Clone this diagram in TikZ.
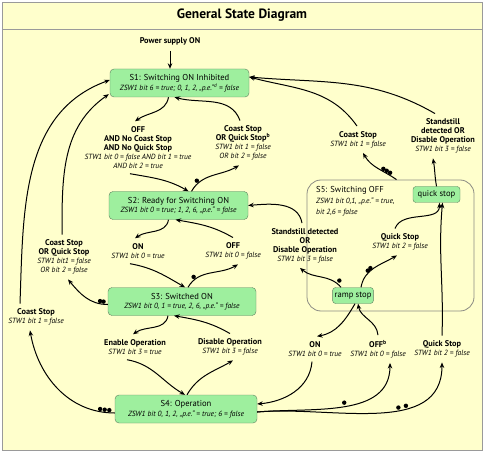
\documentclass[tikz,border=0pt]{standalone}
\usepackage{fontspec}
\setmainfont{PT Sans}
\usetikzlibrary{arrows.meta,positioning}
\definecolor{paper}{HTML}{FFFFCC}
\definecolor{frame}{HTML}{9A9A9A}
\definecolor{stategreen}{HTML}{9EEF9E}
\definecolor{stateedge}{HTML}{5F805F}
\definecolor{groupedge}{HTML}{8C8C84}
\newcommand{\cond}[1]{{\mdseries\itshape\fontsize{7.5}{9}\selectfont #1}}
\tikzset{
  trans/.style={
    -{Stealth[length=5.5pt,width=4.5pt]},
    line width=1pt,
    draw=black
  },
  state/.style={
    draw=stateedge,
    fill=stategreen,
    rounded corners=4pt,
    minimum height=28pt,
    align=center,
    inner sep=2pt,
    font=\fontsize{8.6}{9.5}\selectfont
  },
  substate/.style={
    draw=stateedge,
    fill=stategreen,
    rounded corners=3pt,
    minimum height=16pt,
    inner sep=2pt,
    font=\fontsize{8.6}{9.5}\selectfont
  },
  group/.style={
    draw=groupedge,
    line width=0.8pt,
    rounded corners=14pt
  },
  event/.style={
    align=center,
    inner xsep=1pt,
    inner ysep=5pt,
    font=\bfseries\fontsize{8.3}{9}\selectfont
  },
  dotmark/.style={
    circle,
    fill=black,
    inner sep=0pt,
    minimum size=4.4pt
  }
}

\begin{document}
\begin{tikzpicture}[x=1pt, y=1pt]
  % frame and title
  \draw[frame, fill=paper, line width=0.8pt] (2,3) rectangle (482,451);
  \draw[frame, line width=0.8pt] (2,424) -- (482,424);
  \useasboundingbox (0,0) rectangle (484,453);
  \node[font=\bfseries\fontsize{13.5}{15}\selectfont] (title) at (242,438) {General State Diagram};

  % states
  \node[state, minimum width=139pt] (s1) at (179.5,370) {S1: Switching ON Inhibited\\\cond{ZSW1 bit 6 = true; 0, 1, 2, „p.e.“\textsuperscript{d} = false}};
  \node[state, minimum width=139pt] (s2) at (178.5,247.5) {S2: Ready for Switching ON\\\cond{ZSW1 bit 0 = true; 1, 2, 6, „p.e.“ = false}};
  \node[state, minimum width=148pt] (s3) at (182,151.5) {S3: Switched ON\\\cond{ZSW1 bit 0, 1 = true, 2, 6, „p.e.“ = false}};
  \node[state, minimum width=142pt] (s4) at (186,44) {S4: Operation\\\cond{ZSW1 bit 0, 1, 2, „p.e.“ = true; 6 = false}};
  \node[event, above=18pt of s1, xshift=-9.5pt] (power) {Power supply ON};

  % S5 and its sub states
  \node[group, minimum width=167pt, minimum height=131pt] (s5) at (390.5,207.5) {};
  \node[anchor=north west, align=left, inner sep=2pt, font=\fontsize{8.6}{11}\selectfont] (s5text) at (314,269) {S5: Switching OFF\\\cond{ZSW1 bit 0,1, „p.e.“ = true,}\\\cond{bit 2,6 = false}};
  \node[substate, minimum width=47pt] (qstop) at (436.5,258.5) {quick stop};
  \node[substate, minimum width=40pt] (rstop) at (353,157.5) {ramp stop};

  % events
  \node[event] (offA) at (138,305.5) {OFF\\AND No Coast Stop\\AND No Quick Stop\\\cond{STW1 bit 0 = false AND bit 1 = true}\\\cond{AND bit 2 = true}};
  \node[event] (coastA) at (243,310) {Coast Stop\\OR Quick Stop\textsuperscript{b}\\\cond{STW1 bit 1 = false}\\\cond{OR bit 2 = false}};
  \node[event] (onA) at (138,202) {ON\\\cond{STW1 bit 0 = true}};
  \node[event] (offB) at (233,202) {OFF\\\cond{STW1 bit 0 = false}};
  \node[event] (enableA) at (135,106) {Enable Operation\\\cond{STW1 bit 3 = true}};
  \node[event] (disableA) at (230,106) {Disable Operation\\\cond{STW1 bit 3 = false}};
  \node[event] (coastOr) at (64,196) {Coast Stop\\OR Quick Stop\\\cond{STW1 bit1 = false}\\\cond{OR bit 2 = false}};
  \node[event] (coastL) at (36,136) {Coast Stop\\\cond{STW1 bit 1 = false}};
  \node[event] (standA) at (305,207.5) {Standstill detected\\OR\\Disable Operation\\\cond{STW1 bit 3 = false}};
  \node[event] (quickA) at (400,211) {Quick Stop\\\cond{STW1 bit 2 = false}};
  \node[event] (coastR) at (358,313.5) {Coast Stop\\\cond{STW1 bit 1 = false}};
  \node[event] (standR) at (443,317) {Standstill\\detected OR\\Disable Operation\\\cond{STW1 bit 3 = false}};
  \node[event] (onB) at (315,104) {ON\\\cond{STW1 bit 0 = true}};
  \node[event] (offC) at (378,104) {OFF\textsuperscript{b}\\\cond{STW1 bit 0 = false}};
  \node[event] (quickB) at (442,104) {Quick Stop\\\cond{STW1 bit 2 = false}};

  \draw[trans] (power) -- (power |- s1.north);

  % S1 <-> S2
  \draw[trans] ([xshift=-11pt]s1.south) to[out=-100,in=35] ([xshift=-3pt]offA.north);
  \draw[trans] ([xshift=-8pt]offA.south) to[out=-10,in=150] ([xshift=10pt]s2.north);
  \draw[trans] ([xshift=13pt]s2.north) to[out=60,in=-150] node[dotmark,pos=.2,above left=0pt]{} ([xshift=-4pt]coastA.south);
  \draw[trans] ([xshift=-3pt]coastA.north) to[out=110,in=-15] ([xshift=-5pt]s1.south);

  % S2 <-> S3
  \draw[trans] ([xshift=-10pt]s2.south) to[out=-100,in=35] ([xshift=-3pt]onA.north);
  \draw[trans] ([xshift=-8pt]onA.south) to[out=-10,in=150] ([xshift=3pt]s3.north);
  \draw[trans] ([xshift=6pt]s3.north) to[out=60,in=-150] node[dotmark,pos=.2,above left=0pt]{} ([xshift=5pt]offB.south);
  \draw[trans] (offB.north) to[out=150,in=-10] ([xshift=-3pt]s2.south);

  % S3 <-> S4
  \draw[trans] ([xshift=-14pt]s3.south) to[out=-100,in=35] ([xshift=-2pt]enableA.north);
  \draw[trans] ([xshift=-8pt]enableA.south) to[out=-10,in=150] ([xshift=-1pt]s4.north);
  \draw[trans] ([xshift=1pt]s4.north) to[out=60,in=-150] ([xshift=3pt]disableA.south);
  \draw[trans] (disableA.north) to[out=150,in=-10] ([xshift=-8pt]s3.south);

  % back to S1 on the left
  \draw[trans] ([yshift=-3pt]s3.west) to[out=180,in=-50] node[dotmark,pos=.08,above=0pt]{} node[dotmark,pos=.15,above=0pt]{} ([xshift=4pt]coastOr.south);
  \draw[trans] ([xshift=-2pt]coastOr.north) to[out=90,in=-145] ([xshift=-1pt,yshift=3pt]s1.south west);
  \draw[trans] ([yshift=-4pt]s4.west) to[out=180,in=-80] node[dotmark,pos=.04,above=0pt]{} node[dotmark,pos=.075,above=0pt]{} node[dotmark,pos=.11,above=0pt]{} ([xshift=-6pt]coastL.south);
  \draw[trans] ([xshift=-16pt]coastL.north) to[out=88,in=-160] ([yshift=3pt]s1.west);

  % S5
  \draw[trans] ([xshift=-12pt]rstop.north) to[out=130,in=-40] node[dotmark,pos=.12,above right=1pt]{} ([xshift=-5pt]standA.south);
  \draw[trans] ([xshift=-3pt]standA.north) to[out=100,in=5] (s2.east);
  \draw[trans] ([xshift=8pt]rstop.north) to[out=80,in=-150] node[dotmark,pos=.32,above=0pt]{} node[dotmark,pos=.4,above=0pt]{} ([xshift=-3pt]quickA.south);
  \draw[trans] ([xshift=-5pt]quickA.north) to[out=70,in=-90] ([xshift=3pt]qstop.south);
  \draw[trans] ([xshift=6pt]s5.north) to[out=145,in=-60] node[dotmark,pos=.16,above=0pt]{} node[dotmark,pos=.25,above=0pt]{} node[dotmark,pos=.34,above=0pt]{} ([xshift=5pt]coastR.south);
  \draw[trans] ([xshift=-1pt]coastR.north) to[out=125,in=-15] ([yshift=6pt]s1.east);
  \draw[trans] (qstop.north) to[out=100,in=-80] ([xshift=-10pt]standR.south);
  \draw[trans] ([xshift=-8pt]standR.north) to[out=150,in=-5] ([yshift=6pt]s1.east);

  % S4 with ramp stop and quick stop
  \draw[trans] ([xshift=-3pt]onB.south) to[out=-95,in=5] ([yshift=5pt]s4.east);
  \draw[trans] ([xshift=2pt]rstop.south) to[out=-120,in=10] ([xshift=2pt]onB.north);
  \draw[trans] ([yshift=-3pt]s4.east) to[out=5,in=-90] node[dotmark,pos=.5,above=1pt]{} ([xshift=12pt]offC.south);
  \draw[trans] (offC.north) to[out=95,in=-80] ([xshift=5pt]rstop.south);
  \draw[trans] ([yshift=-3pt]s4.east) to[out=5,in=-90] node[dotmark,pos=.6,above=0pt]{} node[dotmark,pos=.64,above=0pt]{} (quickB.south);
  \draw[trans] (quickB.north) to[out=88,in=-95] ([xshift=6pt]qstop.south);
\end{tikzpicture}
\end{document}
